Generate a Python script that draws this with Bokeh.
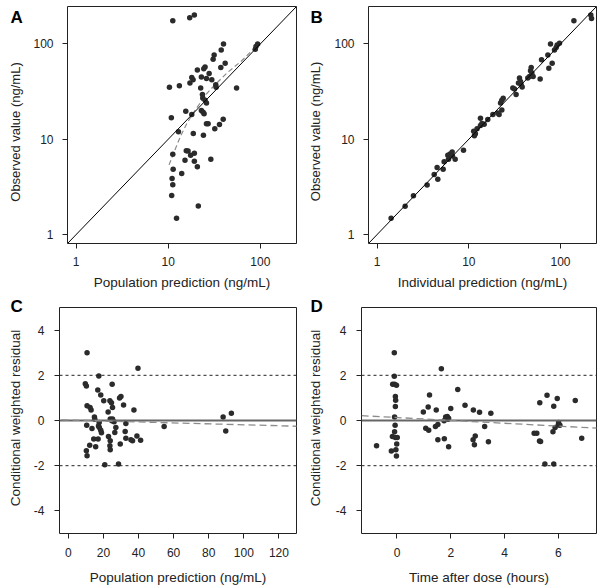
import math
from bokeh.plotting import figure
from bokeh.models import Range1d, FixedTicker, Span, Slope
from bokeh.layouts import row, column
from bokeh.core.properties import value
from bokeh.embed import file_html
from bokeh.resources import INLINE

# ---------------- data ----------------
# Panel A: population prediction vs observed (ng/mL)
pred_a = [11.2, 17.1, 19.2, 39.8, 37.6, 31.5, 30.7, 41.5, 37.2, 25.1,
          24.3, 20.7, 27.8, 18.0, 18.6, 17.2, 22.9, 26.0, 29.7, 32.8,
          10.3, 13.2, 22.5, 33.1, 55.2, 23.5, 23.7, 25.1, 26.0, 10.8,
          15.5, 18.0, 22.9, 23.9, 24.5, 26.0, 27.1, 39.5, 36.0, 32.0,
          12.9, 18.7, 24.1, 11.2, 15.7, 16.4, 19.2, 17.5, 15.2, 19.2,
          29.0, 20.7, 11.3, 14.0, 11.0, 11.2, 10.9, 21.2, 12.3, 88.2,
          89.7, 93.5]
obs_a = [175, 188, 201, 100, 86.6, 76.7, 69.2, 62.8, 56.6, 57.1,
         54.9, 53.1, 49.0, 44.5, 42.0, 38.9, 44.9, 43.5, 42.0, 37.3,
         35.0, 36.5, 34.4, 35.0, 34.4, 29.4, 27.1, 25.6, 24.0, 16.8,
         19.7, 18.2, 20.0, 19.2, 18.5, 14.5, 14.5, 16.2, 14.3, 12.9,
         12.0, 11.5, 11.0, 6.95, 7.59, 7.53, 7.11, 6.78, 6.01, 5.87,
         6.16, 5.13, 4.84, 4.37, 3.87, 3.32, 2.57, 1.99, 1.48, 88.0,
         93.8, 100]
smooth_a_x = [10.2, 11.5, 13.6, 16.1, 18.7, 21.6, 25.6, 31.5, 44.0, 61.5, 89.7]
smooth_a_y = [5.38, 7.23, 10.8, 14.9, 18.9, 23.1, 29.4, 36.5, 50.2, 65.4, 93.8]

# Panel B: individual prediction vs observed (ng/mL)
ipred_b = [1.42, 2.02, 2.49, 3.51, 4.19, 4.51, 4.59, 5.25, 5.38, 6.0,
           5.90, 6.25, 6.58, 6.63, 7.1, 8.75, 11.3, 11.8, 11.5, 12.3,
           13.4, 13.9, 14.7, 13.4, 16.1, 18.3, 20.7, 21.4, 22.9, 22.2,
           22.9, 23.7, 30.2, 31.5, 32.8, 34.8, 35.7, 36.6, 37.2, 38.2,
           44.0, 45.9, 47.9, 47.1, 48.7, 50.3, 60.0, 62.1, 72.8, 74.6,
           81.1, 77.8, 86.0, 89.7, 92.0, 97.5, 140, 214, 218]
obs_b = [1.48, 1.98, 2.55, 3.30, 4.26, 5.04, 3.81, 4.84, 5.82, 6.16,
         6.78, 7.0, 7.35, 6.67, 6.16, 7.65, 12.1, 11.4, 10.9, 12.9,
         16.6, 14.6, 14.4, 13.9, 16.1, 18.2, 18.9, 18.2, 20.2, 24.0,
         25.6, 26.9, 34.4, 33.6, 29.4, 38.9, 43.8, 40.4, 37.3, 35.3,
         43.8, 45.6, 56.6, 52.3, 49.4, 45.6, 42.8, 68.1, 76.7, 55.7,
         62.8, 100, 86.6, 91.6, 97.7, 101.6, 175, 201, 185]

# Panel C: population prediction vs CWRES
pred_c = [10.7, 39.7, 17.4, 9.7, 10.3, 25.0, 16.8, 18.5, 20.2, 23.7,
          24.6, 30.0, 29.2, 31.5, 37.4, 25.2, 22.7, 10.7, 12.4, 13.0,
          14.9, 15.1, 23.9, 25.2, 24.8, 26.1, 17.6, 17.2, 17.7, 18.5,
          18.9, 10.5, 13.5, 32.8, 54.6, 88.2, 92.9, 89.7, 10.3, 10.7,
          12.2, 14.5, 17.0, 15.6, 22.9, 23.9, 23.7, 23.9, 26.5, 27.1,
          29.6, 32.4, 32.8, 35.7, 36.6, 39.1, 41.2, 20.8, 28.6]
cwres_c = [3.0, 2.31, 1.97, 1.63, 1.53, 1.60, 1.35, 1.13, 0.87, 0.87,
           0.79, 1.06, 1.0, 0.69, 0.47, 0.57, 0.38, 0.65, 0.57, 0.47,
           0.16, 0.06, 0.07, 0.07, -0.01, -0.06, -0.09, -0.24, -0.31, -0.43,
           -0.54, -0.21, -0.35, -0.13, -0.26, 0.16, 0.32, -0.46, -1.34, -1.56,
           -1.09, -0.82, -0.82, -1.16, -0.71, -0.9, -1.12, -1.29, -0.53, -0.31,
           -1.04, -0.49, -0.79, -0.85, -0.9, -0.69, -0.87, -1.96, -1.93]
trend_c = {"intercept": 0.02, "slope": -0.0021}

# Panel D: time after dose vs CWRES
tad_d = [-0.76, -0.1, -0.1, -0.16, -0.09, -0.02, -0.06, -0.05, -0.06, -0.09,
         -0.07, -0.09, -0.17, -0.06, 0.01, -0.01, -0.21, -0.04, -0.02, 0.98,
         1.16, 1.21, 1.07, 1.18, 1.46, 1.43, 1.52, 1.52, 1.65, 1.75,
         1.81, 1.87, 1.92, 1.9, 1.76, 1.92, 2.0, 2.26, 2.53, 2.84,
         2.83, 2.88, 2.91, 3.07, 3.26, 3.4, 3.49, 5.1, 5.2, 5.31,
         5.3, 5.34, 5.5, 5.58, 5.83, 5.83, 5.8, 5.88, 5.96, 6.01,
         6.06, 6.0, 6.63, 6.87]
cwres_d = [-1.12, 3.0, 1.96, 1.6, 1.6, 1.56, 1.06, 0.9, 0.62, 0.16,
           -0.21, -0.5, -0.71, -0.75, -0.75, -1.04, -1.35, -1.29, -1.57, 0.38,
           0.6, 1.13, -0.34, -0.43, 0.47, -0.26, -0.18, -0.85, 2.29, -0.01,
           0.15, 0.18, 0.1, 0.06, -0.81, -1.16, 0.53, 1.37, 0.68, 0.47,
           -0.85, -1.07, -0.69, 0.37, -0.26, -0.94, 0.32, -0.56, -0.56, 0.79,
           -0.91, -0.93, -1.93, 1.12, -1.93, 0.63, -0.5, -0.31, 0.97, -0.09,
           -0.21, -0.19, 0.88, -0.79]
trend_d = {"intercept": 0.13, "slope": -0.063}

# ticks and labels
log_ticks = [1, 10, 100]
log_tick_labels = ["1", "10", "100"]
c_ticks = [0, 20, 40, 60, 80, 100, 120]
c_tick_labels = ["0", "20", "40", "60", "80", "100", "120"]
d_ticks = [0, 2, 4, 6]
d_tick_labels = ["0", "2", "4", "6"]
res_ticks = [-4, -2, 0, 2, 4]
res_tick_labels = ["-4", "-2", "0", "2", "4"]
ref_lines = [-2, 2]

panel_letters = ["A", "B", "C", "D"]
x_titles = ["Population prediction (ng/mL)", "Individual prediction (ng/mL)",
            "Population prediction (ng/mL)", "Time after dose (hours)"]
y_titles = ["Observed value (ng/mL)", "Observed value (ng/mL)",
            "Conditional weighted residual", "Conditional weighted residual"]

# ---------------- styling ----------------
FONT = "Liberation Sans"
INK = "#222222"
PT = "#2b2b2b"

TOP_H, BOT_H = 292, 295
STRIP_W = 26
LEFT_W, RIGHT_W = 279, 270


def make_fig(width, height, xr, yr, xtype, ytype, mbl, mbr, mbt, mbb,
             xticks, xlabels, yticks, ylabels, xtitle, x_std, x_lstd, y_std):
    p = figure(width=width, height=height, x_range=xr, y_range=yr,
               x_axis_type=xtype, y_axis_type=ytype,
               output_backend="svg", toolbar_location=None,
               min_border_left=mbl, min_border_right=mbr,
               min_border_top=mbt, min_border_bottom=mbb)
    p.grid.visible = False
    p.outline_line_color = INK
    p.outline_line_width = 1
    p.background_fill_color = "white"
    p.border_fill_color = "white"
    p.xaxis.ticker = FixedTicker(ticks=xticks, minor_ticks=[])
    p.yaxis.ticker = FixedTicker(ticks=yticks, minor_ticks=[])
    p.xaxis.major_label_overrides = dict(zip(xticks, xlabels))
    p.yaxis.major_label_overrides = dict(zip(yticks, ylabels))
    p.xaxis.axis_label = xtitle
    for ax in p.axis:
        ax.axis_line_color = None
        ax.major_tick_out = 5
        ax.major_tick_in = 0
        ax.minor_tick_out = 0
        ax.minor_tick_in = 0
        ax.major_tick_line_color = INK
        ax.major_label_text_font = FONT
        ax.major_label_text_font_size = "12px"
        ax.major_label_text_color = INK
        ax.axis_label_text_font = FONT
        ax.axis_label_text_font_style = "normal"
        ax.axis_label_text_color = INK
    p.xaxis.axis_label_text_font_size = "13.5px"
    p.xaxis.major_label_standoff = x_std
    p.xaxis.axis_label_standoff = x_lstd
    p.yaxis.major_label_standoff = y_std
    return p


def make_strip(height, letter, letter_x, letter_base, title, title_x, title_y, title_size):
    s = figure(width=STRIP_W, height=height, x_range=Range1d(0, STRIP_W),
               y_range=Range1d(height, 0), x_axis_type=None, y_axis_type=None,
               output_backend="svg", toolbar_location=None,
               min_border_left=0, min_border_right=0, min_border_top=0, min_border_bottom=0)
    s.outline_line_color = None
    s.background_fill_color = "white"
    s.border_fill_color = "white"
    s.text(x=[letter_x], y=[letter_base], text=[letter], text_font=value(FONT),
           text_font_style=value("bold"), text_font_size=value("17px"),
           text_color="black", text_align=value("left"), text_baseline=value("alphabetic"))
    s.text(x=[title_x], y=[title_y], text=[title], angle=math.pi / 2,
           text_font=value(FONT), text_font_size=value(title_size),
           text_color=INK, text_align=value("center"), text_baseline=value("middle"))
    # wrap in its own column so its frame is not aligned with the neighbouring plot
    return column(s)


log_range = (0.805, 247)

# ---- Panel A ----
pA = make_fig(LEFT_W, TOP_H, Range1d(*log_range), Range1d(*log_range), "log", "log",
              41, 9, 6, 47, log_ticks, log_tick_labels, log_ticks, log_tick_labels,
              x_titles[0], 8, 6, 9)
pA.add_layout(Slope(gradient=1, y_intercept=0, line_color="black", line_width=1))
pA.line(smooth_a_x, smooth_a_y, line_color="#8a8a8a", line_width=1.2, line_dash="5 3")
pA.scatter(pred_a, obs_a, size=5.5, fill_color=PT, line_color=None)
sA = make_strip(TOP_H, panel_letters[0], 10, 17, y_titles[0], 15, 131.5, "13px")

# ---- Panel B ----
pB = make_fig(RIGHT_W, TOP_H, Range1d(*log_range), Range1d(*log_range), "log", "log",
              36, 5, 6, 47, log_ticks, log_tick_labels, log_ticks, log_tick_labels,
              x_titles[1], 8, 6, 9)
pB.add_layout(Slope(gradient=1, y_intercept=0, line_color="black", line_width=1))
pB.scatter(ipred_b, obs_b, size=5.5, fill_color=PT, line_color=None)
sB = make_strip(TOP_H, panel_letters[1], 5, 17, y_titles[1], 10, 131.0, "13px")


def residual_decor(p, trend):
    for loc in ref_lines:
        p.add_layout(Span(location=loc, dimension="width", line_color=INK,
                          line_width=1, line_dash="3 3"))
    p.add_layout(Span(location=0, dimension="width", line_color="#666666", line_width=2))
    p.add_layout(Slope(gradient=trend["slope"], y_intercept=trend["intercept"],
                       line_color="#8c8c8c", line_width=1.3, line_dash="7 4"))


# ---- Panel C ----
pC = make_fig(LEFT_W, BOT_H, Range1d(-5, 130), Range1d(-5, 5), "linear", "linear",
              33, 9, 15, 54, c_ticks, c_tick_labels, res_ticks, res_tick_labels,
              x_titles[2], 9, 10, 10)
residual_decor(pC, trend_c)
pC.scatter(pred_c, cwres_c, size=5.5, fill_color=PT, line_color=None)
sC = make_strip(BOT_H, panel_letters[2], 10, 13.5, y_titles[2], 15, 125.5, "13.5px")

# ---- Panel D ----
pD = make_fig(RIGHT_W, BOT_H, Range1d(-1.32, 7.42), Range1d(-5, 5), "linear", "linear",
              30, 5, 15, 54, d_ticks, d_tick_labels, res_ticks, res_tick_labels,
              x_titles[3], 9, 10, 10)
residual_decor(pD, trend_d)
pD.scatter(tad_d, cwres_d, size=5.5, fill_color=PT, line_color=None)
sD = make_strip(BOT_H, panel_letters[3], 5, 13.5, y_titles[3], 10, 125.5, "13.5px")

layout = column(row(sA, pA, sB, pB), row(sC, pC, sD, pD))

open("out.html", "w").write(file_html(layout, INLINE))
